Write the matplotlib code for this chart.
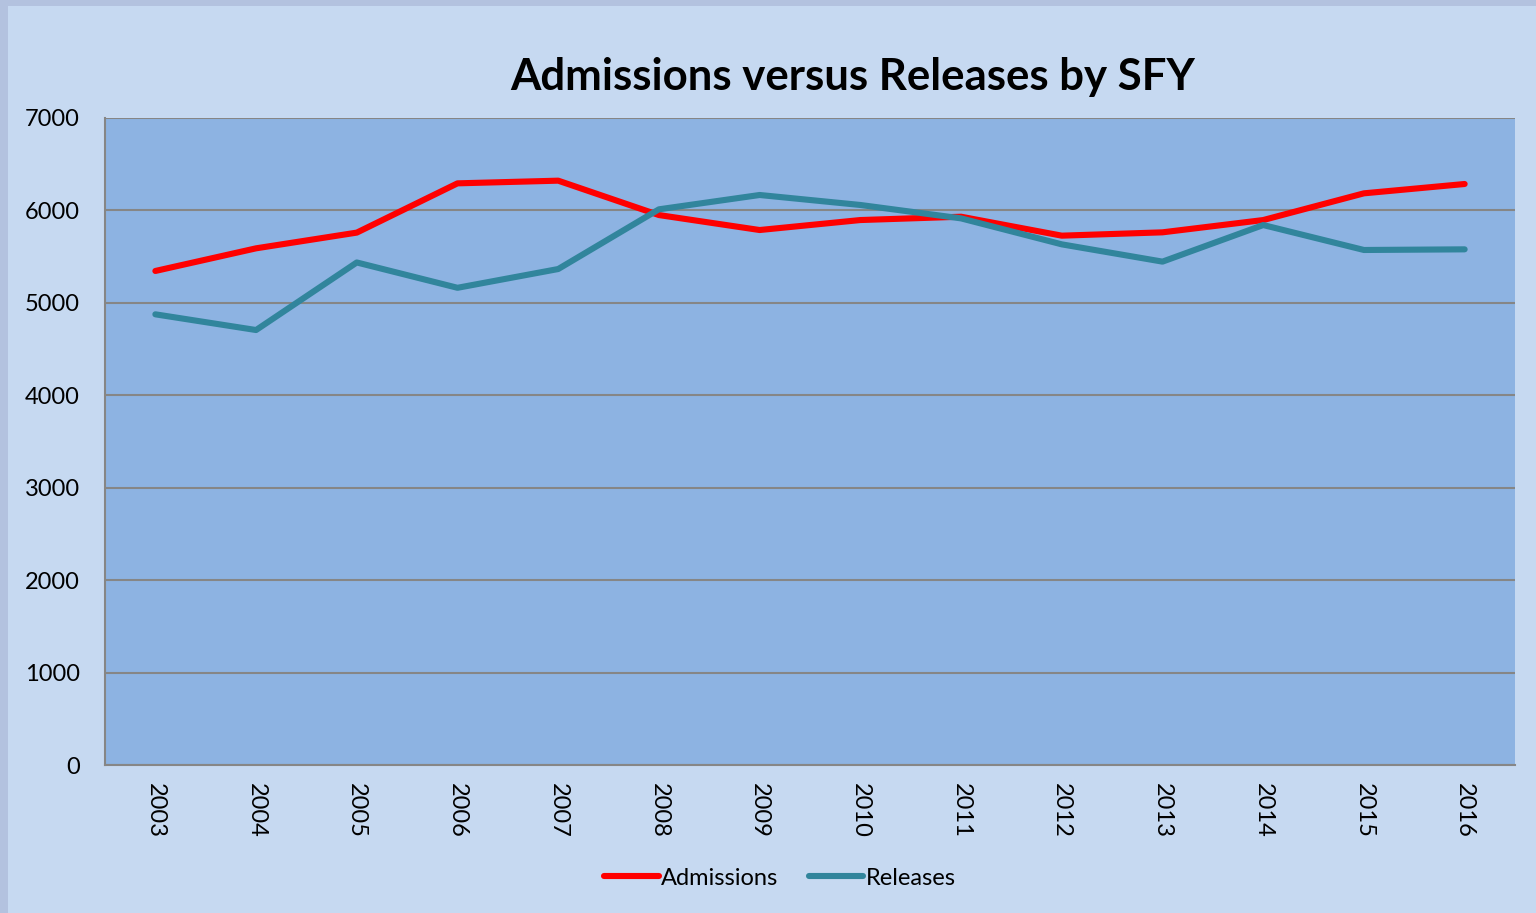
import matplotlib
matplotlib.use("Agg")
import matplotlib.pyplot as plt
from matplotlib.patches import Rectangle

# ---------------------------------------------------------------------------
# Data
# ---------------------------------------------------------------------------
years = ["2003", "2004", "2005", "2006", "2007", "2008", "2009",
         "2010", "2011", "2012", "2013", "2014", "2015", "2016"]
admissions = [5345, 5590, 5760, 6293, 6322, 5950, 5788,
              5896, 5932, 5727, 5763, 5896, 6185, 6286]
releases = [4876, 4706, 5437, 5163, 5366, 6012, 6167,
            6059, 5914, 5633, 5446, 5842, 5572, 5579]
y_ticks = [0, 1000, 2000, 3000, 4000, 5000, 6000, 7000]

FIG_BG = "#C6D9F1"
PLOT_BG = "#8DB3E2"
EDGE = "#B3C2DF"
GRID = "#868686"

plt.rcParams["font.family"] = ["Lato", "DejaVu Sans"]

fig = plt.figure(figsize=(15.36, 9.13), dpi=100, facecolor=FIG_BG)

# darker strips at left and top edge of the chart frame
fig.patches.append(Rectangle((0, 0), 8 / 1536, 1, transform=fig.transFigure,
                             facecolor=EDGE, edgecolor="none", zorder=0))
fig.patches.append(Rectangle((0, 1 - 6 / 913), 1, 6 / 913, transform=fig.transFigure,
                             facecolor=EDGE, edgecolor="none", zorder=0))

ax = fig.add_axes([105 / 1536, 1 - 765 / 913, 1410 / 1536, 647 / 913])
ax.set_facecolor(PLOT_BG)

x = list(range(len(years)))
ax.plot(x, admissions, color="#FF0000", lw=4.4, solid_capstyle="round",
        solid_joinstyle="round", label="Admissions", zorder=3)
ax.plot(x, releases, color="#31859C", lw=4.4, solid_capstyle="round",
        solid_joinstyle="round", label="Releases", zorder=3)

ax.set_xlim(-0.5, len(years) - 0.5)
ax.set_ylim(0, 7000)
ax.set_yticks(y_ticks)
ax.set_yticklabels([str(v) for v in y_ticks])
ax.set_xticks(x)
ax.set_xticklabels(years, rotation=270)

ax.yaxis.grid(True, color=GRID, lw=1.5)
ax.set_axisbelow(True)
for side in ("top", "right"):
    ax.spines[side].set_visible(False)
for side in ("left", "bottom"):
    ax.spines[side].set_color(GRID)
    ax.spines[side].set_linewidth(1.5)

ax.tick_params(axis="y", length=0, pad=18, labelsize=17)
ax.tick_params(axis="x", length=0, pad=13, labelsize=17)

fig.text(853 / 1536, 1 - 77 / 913, "Admissions versus Releases by SFY",
         ha="center", va="center", fontsize=31.5, fontweight="bold")

leg = fig.legend(loc="center", bbox_to_anchor=(780 / 1536, 1 - 878 / 913),
                 ncol=2, frameon=False, fontsize=17, handlelength=2.3,
                 handletextpad=0.1, columnspacing=1.3)

fig.savefig("out.png", dpi=100, facecolor=FIG_BG)
